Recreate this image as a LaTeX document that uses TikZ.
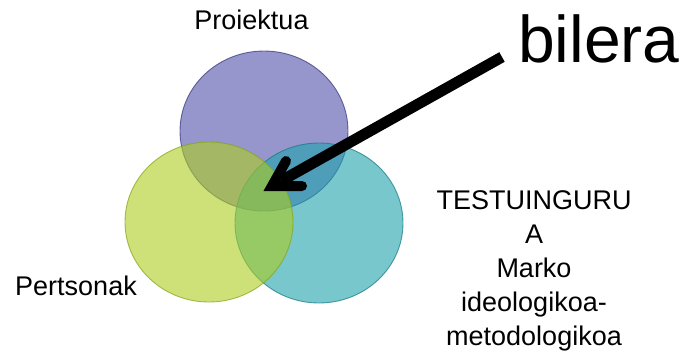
\documentclass[tikz,border=0pt]{standalone}
\usepackage{fontspec}
\setmainfont{Liberation Sans}
\usetikzlibrary{shapes.geometric,calc}
\definecolor{cpurple}{RGB}{80,80,172}
\definecolor{cpurpleD}{RGB}{50,50,120}
\definecolor{cteal}{RGB}{30,163,172}
\definecolor{ctealD}{RGB}{20,120,130}
\definecolor{cgreen}{RGB}{172,205,30}
\definecolor{cgreenD}{RGB}{130,165,20}
\begin{document}
\begin{tikzpicture}[x=1pt,y=-1pt,
  venn/.style={ellipse, inner sep=0pt, minimum width=168pt, minimum height=160pt,
    fill opacity=0.6, draw opacity=0.7, line width=0.9pt},
  lbl/.style={inner sep=0pt, anchor=base, font=\fontsize{27}{34}\selectfont, text=black},
  arrowline/.style={line width=11pt, draw=black}]
\useasboundingbox[fill=white] (0,0) rectangle (687,354);
\node[venn, fill=cpurple, draw=cpurpleD] (proj) at (264,131) {};
\node[venn, fill=cteal, draw=ctealD] (test) at (319,223) {};
\node[venn, fill=cgreen, draw=cgreenD] (pers) at (209,222) {};
\node[lbl] (lproj) at (251.5,29) {Proiektua};
\node[lbl] (lpers) at (76,295) {Pertsonak};
\node[lbl, align=center] (ltest) at (534,345) {TESTUINGURU\\A\\Marko\\ideologikoa-\\metodologikoa};
\node[inner sep=0pt, anchor=base, font=\fontsize{66}{70}\selectfont] (bilera) at (599,62) {bilera};
\coordinate (tail) at (502,57);
\coordinate (tip) at (272,186);
\coordinate (barbA) at (286,161);
\coordinate (barbB) at (302,186);
\draw[arrowline, line cap=butt] (tail) -- ($(tip)!0.04!(tail)$);
\draw[arrowline, line width=10pt, line cap=round, line join=miter] (barbA) -- (tip) -- (barbB);
\end{tikzpicture}
\end{document}
